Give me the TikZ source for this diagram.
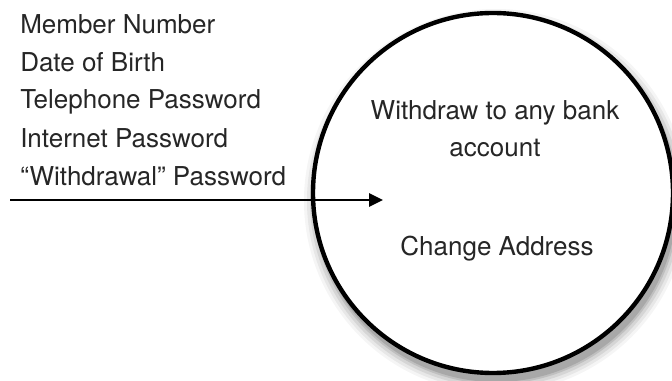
\documentclass[tikz,border=0pt]{standalone}
\usepackage{fontspec}
\setmainfont{TeX Gyre Heros}
\usetikzlibrary{positioning,arrows.meta}
\tikzset{
  listtxt/.style={
    anchor=base west, inner sep=0pt, text=black!85,
    font=\fontsize{19.5}{27.75}\selectfont
  },
  proctxt/.style={
    anchor=base, inner sep=0pt, align=center, text=black!85,
    font=\fontsize{19.5}{27.75}\selectfont
  },
  procbox/.style={
    circle, draw=black, fill=white, line width=3.3pt,
    minimum size=270pt, inner sep=0pt
  },
  flowarr/.style={
    -{Triangle[length=10.5pt, width=10pt]}, line width=1.5pt
  }
}
\begin{document}
\begin{tikzpicture}[x=0.75pt, y=-0.75pt]
\useasboundingbox (0,0) rectangle (672,381);
% soft shadow under the process
\foreach \r/\o in {192/0.04, 189/0.06, 186/0.08, 183/0.10, 181/0.12} {
  \fill[black, opacity=\o] (496,201) circle[radius=\r];
}
\node[procbox] (proc) at (493,193) {};

% data items
\node[listtxt] (mnum) at (20,34) {Member Number};
\node[listtxt] (dob) at (20,72) {Date of Birth};
\node[listtxt] (telpw) at (20,109) {Telephone Password};
\node[listtxt] (netpw) at (20,148) {Internet Password};
\node[listtxt] (wdpw) at (20,186) {``Withdrawal'' Password};

% functions
\node[proctxt] (wdany) at (495,157) {Withdraw to any bank\\account};
\node[proctxt] (chaddr) at (497,256) {Change Address};

\coordinate (src) at (10,200);
\coordinate (tip) at (383,200);
\draw[flowarr] (src) -- (tip);
\end{tikzpicture}
\end{document}
